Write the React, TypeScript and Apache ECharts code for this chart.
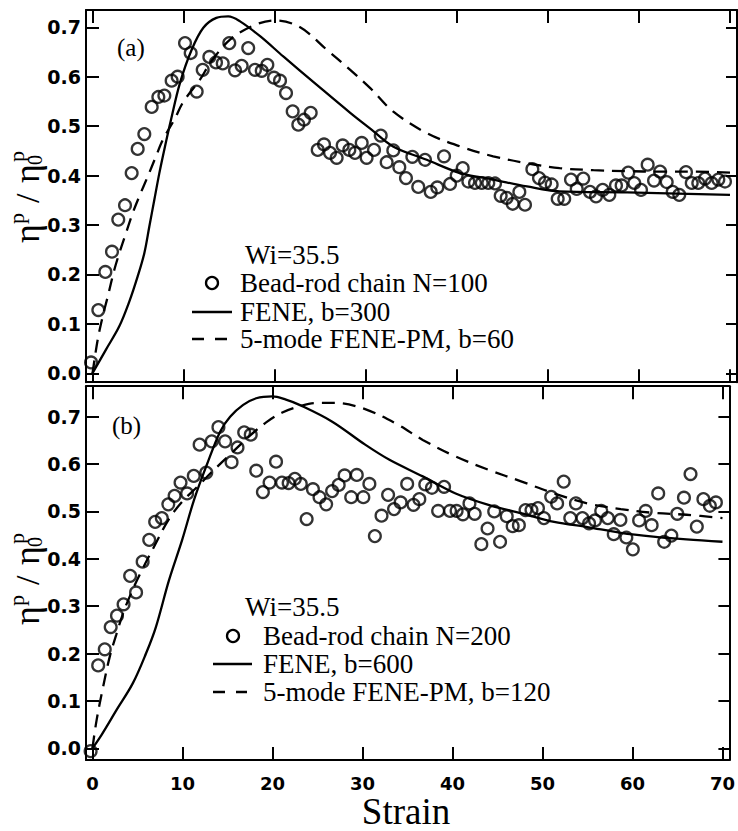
import React, { useEffect, useRef } from 'react';
import * as echarts from 'echarts';

// ---------- tick values ----------
const xTicks = [0, 10, 20, 30, 40, 50, 60, 70];
const yTicks = [0, 0.1, 0.2, 0.3, 0.4, 0.5, 0.6, 0.7];

// ---------- panel (a): bead-rod chain N=100 ----------
const aBeadX = [-0.16, 0.64, 1.41, 2.14, 2.83, 3.57, 4.3, 4.96, 5.69, 6.5, 7.23, 7.89, 8.69, 9.35, 10.16, 10.78, 11.44, 12.1, 12.83, 13.56, 14.3, 15.02, 15.65, 16.38, 17.1, 17.84, 18.58, 19.2, 19.93, 20.59, 21.25, 21.98, 22.6, 23.22, 23.96, 24.73, 25.42, 26.08, 26.81, 27.47, 28.2, 28.82, 29.56, 30.1, 30.91, 31.65, 32.3, 33.03, 33.69, 34.42, 35.12, 35.77, 36.51, 37.14, 37.86, 38.6, 39.26, 39.99, 40.65, 41.27, 42.0, 42.74, 43.46, 44.2, 44.82, 45.48, 46.14, 46.87, 47.49, 48.3, 49.03, 49.69, 50.42, 51.08, 51.8, 52.54, 53.17, 53.89, 54.63, 55.29, 56.02, 56.75, 57.48, 58.1, 58.83, 59.49, 60.23, 60.96, 61.66, 62.32, 63.05, 63.71, 64.43, 65.17, 65.8, 66.52, 67.26, 67.99, 68.72, 69.45];
const aBeadY = [0.022, 0.128, 0.205, 0.246, 0.311, 0.34, 0.405, 0.454, 0.484, 0.539, 0.559, 0.562, 0.592, 0.6, 0.668, 0.648, 0.57, 0.614, 0.64, 0.629, 0.627, 0.668, 0.613, 0.622, 0.658, 0.614, 0.612, 0.624, 0.598, 0.592, 0.567, 0.53, 0.503, 0.513, 0.527, 0.452, 0.463, 0.446, 0.436, 0.461, 0.452, 0.446, 0.466, 0.436, 0.452, 0.481, 0.427, 0.451, 0.417, 0.395, 0.438, 0.377, 0.432, 0.367, 0.376, 0.439, 0.383, 0.4, 0.415, 0.388, 0.385, 0.385, 0.385, 0.384, 0.359, 0.355, 0.343, 0.367, 0.341, 0.413, 0.395, 0.386, 0.382, 0.353, 0.353, 0.392, 0.373, 0.394, 0.367, 0.358, 0.371, 0.361, 0.38, 0.38, 0.406, 0.385, 0.371, 0.422, 0.39, 0.408, 0.387, 0.367, 0.361, 0.407, 0.385, 0.385, 0.394, 0.385, 0.392, 0.388];

// FENE, b=300
const aFeneX = [0, 1.48, 2.94, 4.04, 4.96, 5.69, 6.24, 6.79, 7.34, 7.96, 8.62, 9.6, 10.9, 12.17, 13.6, 14.9, 16.2, 18.4, 20.95, 24.6, 28.3, 30.5, 33.0, 36.7, 40.4, 44.0, 47.7, 51.3, 58.7, 70.0];
const aFeneY = [0, 0.048, 0.095, 0.145, 0.196, 0.243, 0.297, 0.351, 0.405, 0.459, 0.513, 0.587, 0.655, 0.699, 0.719, 0.722, 0.712, 0.682, 0.641, 0.584, 0.527, 0.495, 0.459, 0.432, 0.405, 0.392, 0.378, 0.368, 0.366, 0.361];

// 5-mode FENE-PM, b=60
const aPmX = [0, 0.57, 1.12, 1.67, 2.39, 2.94, 3.68, 4.41, 5.14, 6.06, 6.97, 7.71, 8.98, 10.0, 11.8, 13.0, 15.1, 17.6, 20.0, 22.8, 25.7, 28.3, 30.5, 33.0, 36.7, 40.35, 44.0, 47.7, 51.3, 55.0, 58.7, 62.3, 66.0, 70.0];
const aPmY = [0, 0.068, 0.115, 0.155, 0.209, 0.243, 0.284, 0.324, 0.358, 0.398, 0.439, 0.472, 0.513, 0.55, 0.594, 0.63, 0.675, 0.703, 0.714, 0.7, 0.655, 0.614, 0.577, 0.53, 0.486, 0.459, 0.439, 0.425, 0.415, 0.411, 0.409, 0.408, 0.408, 0.406];

// ---------- panel (b): bead-rod chain N=200 ----------
const bBeadX = [-0.2, 0.64, 1.37, 2.03, 2.73, 3.46, 4.19, 4.85, 5.58, 6.31, 6.97, 7.71, 8.43, 9.13, 9.79, 10.52, 11.26, 11.91, 12.65, 13.26, 14.0, 14.74, 15.46, 16.12, 16.86, 17.59, 18.2, 18.94, 19.68, 20.4, 21.06, 21.8, 22.49, 23.15, 23.8, 24.5, 25.23, 25.97, 26.63, 27.36, 28.02, 28.75, 29.37, 30.1, 30.77, 31.38, 32.12, 32.85, 33.51, 34.24, 34.97, 35.67, 36.32, 36.98, 37.72, 38.41, 39.07, 39.73, 40.46, 41.16, 41.89, 42.47, 43.21, 43.9, 44.64, 45.29, 46.03, 46.69, 47.38, 48.12, 48.78, 49.5, 50.16, 50.97, 51.63, 52.36, 53.09, 53.72, 54.44, 55.18, 55.84, 56.53, 57.26, 57.92, 58.66, 59.32, 60.04, 60.74, 61.47, 62.13, 62.86, 63.52, 64.32, 64.98, 65.72, 66.45, 67.15, 67.88, 68.6, 69.27];
const bBeadY = [-0.006, 0.175, 0.209, 0.256, 0.28, 0.304, 0.364, 0.329, 0.394, 0.44, 0.478, 0.486, 0.515, 0.533, 0.561, 0.538, 0.575, 0.641, 0.582, 0.648, 0.678, 0.648, 0.604, 0.635, 0.667, 0.662, 0.586, 0.541, 0.561, 0.605, 0.561, 0.56, 0.569, 0.558, 0.484, 0.547, 0.53, 0.515, 0.543, 0.556, 0.576, 0.53, 0.577, 0.53, 0.558, 0.448, 0.491, 0.535, 0.505, 0.519, 0.558, 0.514, 0.526, 0.557, 0.55, 0.501, 0.552, 0.501, 0.501, 0.494, 0.517, 0.495, 0.431, 0.464, 0.5, 0.436, 0.49, 0.469, 0.471, 0.503, 0.503, 0.507, 0.486, 0.531, 0.517, 0.563, 0.486, 0.517, 0.486, 0.475, 0.481, 0.501, 0.486, 0.452, 0.482, 0.445, 0.42, 0.481, 0.501, 0.471, 0.538, 0.436, 0.449, 0.495, 0.529, 0.579, 0.468, 0.526, 0.512, 0.519];

// FENE, b=600
const bFeneX = [0, 1.0, 2.65, 4.48, 5.95, 7.05, 8.51, 9.97, 11.3, 12.7, 14.2, 15.3, 16.75, 18.2, 20.0, 21.5, 23.0, 26.6, 30.3, 33.0, 36.7, 40.35, 44.0, 47.7, 51.3, 55.0, 58.7, 62.3, 66.0, 70.0];
const bFeneY = [0, 0.028, 0.08, 0.137, 0.2, 0.256, 0.355, 0.44, 0.525, 0.598, 0.669, 0.7, 0.725, 0.739, 0.743, 0.736, 0.725, 0.69, 0.641, 0.609, 0.574, 0.538, 0.514, 0.496, 0.478, 0.467, 0.455, 0.447, 0.441, 0.436];

// 5-mode FENE-PM, b=120
const bPmX = [0, 0.46, 1.19, 1.92, 2.65, 3.5, 4.48, 5.6, 6.86, 8.5, 10.0, 11.7, 13.3, 15.5, 17.5, 19.3, 21.1, 23.0, 24.8, 27.0, 30.3, 33.95, 36.7, 40.35, 44.0, 47.7, 51.3, 55.0, 58.7, 62.3, 66.0, 70.0];
const bPmY = [0, 0.059, 0.13, 0.193, 0.24, 0.29, 0.335, 0.38, 0.426, 0.484, 0.521, 0.553, 0.584, 0.624, 0.66, 0.688, 0.709, 0.722, 0.729, 0.729, 0.716, 0.683, 0.651, 0.616, 0.588, 0.563, 0.538, 0.517, 0.505, 0.497, 0.493, 0.486];

// ---------- texts ----------
const legendA = ['Wi=35.5', 'Bead-rod chain N=100', 'FENE, b=300', '5-mode FENE-PM, b=60'];
const legendB = ['Wi=35.5', 'Bead-rod chain N=200', 'FENE, b=600', '5-mode FENE-PM, b=120'];

const SERIF = "'Liberation Serif', serif";
const SANS = "'DejaVu Sans', sans-serif";

const zip = (xs: number[], ys: number[]) => xs.map((x, i) => [x, ys[i]]);

const X_MIN = -0.714;
const X_MAX = 70.77;

function xAxis(gridIndex: number, position: 'top' | 'bottom', labels: boolean) {
  return {
    type: 'value',
    gridIndex,
    position,
    min: X_MIN,
    max: X_MAX,
    axisLine: { show: true, onZero: false, lineStyle: { color: '#000', width: 2 } },
    axisTick: { show: true, inside: true, length: 13, customValues: xTicks, lineStyle: { color: '#000', width: 2 } },
    axisLabel: {
      show: labels,
      customValues: xTicks,
      margin: 14,
      fontFamily: SANS,
      fontWeight: 'bold',
      fontSize: 18,
      color: '#000',
    },
    splitLine: { show: false },
  };
}

function yAxis(gridIndex: number, position: 'left' | 'right', labels: boolean, min: number, max: number) {
  return {
    type: 'value',
    gridIndex,
    position,
    min,
    max,
    axisLine: { show: true, onZero: false, lineStyle: { color: '#000', width: 2 } },
    axisTick: { show: true, inside: true, length: position === 'left' ? 13 : 11, customValues: yTicks, lineStyle: { color: '#000', width: 2 } },
    axisLabel: {
      show: labels,
      customValues: yTicks,
      margin: 5,
      fontFamily: SANS,
      fontWeight: 'bold',
      fontSize: 19,
      color: '#000',
      formatter: (v: number) => v.toFixed(1),
    },
    splitLine: { show: false },
  };
}

function scatter(data: number[][], xi: number, yi: number, name: string) {
  return {
    type: 'scatter',
    name,
    xAxisIndex: xi,
    yAxisIndex: yi,
    data,
    symbol: 'circle',
    symbolSize: 11.8,
    itemStyle: { color: 'rgba(0,0,0,0)', borderColor: '#000', borderWidth: 2.3 },
    z: 3,
  };
}

function curve(data: number[][], xi: number, yi: number, name: string, dashed: boolean) {
  return {
    type: 'line',
    name,
    xAxisIndex: xi,
    yAxisIndex: yi,
    data,
    smooth: 0.35,
    showSymbol: false,
    symbol: 'none',
    lineStyle: { color: '#000', width: 2.3, type: dashed ? [13, 8] : 'solid' },
    z: 2,
  };
}

function legendGraphics(
  texts: string[],
  textLeft: number,
  rows: number[],
  circleX: number,
  lineX1: number,
  lineX2: number,
  dashX2: number,
  wiLeft: number,
) {
  const t = (s: string, x: number, y: number) => ({
    type: 'text',
    x,
    y,
    style: { text: s, fontFamily: SERIF, fontSize: 27, fill: '#000', align: 'left', verticalAlign: 'middle' },
  });
  return [
    t(texts[0], wiLeft, rows[0]),
    {
      type: 'circle',
      shape: { cx: circleX, cy: rows[1], r: 6 },
      style: { fill: 'none', stroke: '#000', lineWidth: 2.3 },
    },
    t(texts[1], textLeft, rows[1]),
    {
      type: 'line',
      shape: { x1: lineX1, y1: rows[2], x2: lineX2, y2: rows[2] },
      style: { stroke: '#000', lineWidth: 2.3 },
    },
    t(texts[2], textLeft, rows[2]),
    {
      type: 'line',
      shape: { x1: lineX1, y1: rows[3], x2: dashX2, y2: rows[3] },
      style: { stroke: '#000', lineWidth: 2.3, lineDash: [12, 11] },
    },
    t(texts[3], textLeft, rows[3]),
  ];
}

function yName(cx: number, cy: number) {
  const t = (s: string, x: number, y: number, size: number) => ({
    type: 'text',
    x,
    y,
    style: { text: s, fontFamily: SERIF, fontSize: size, fill: '#000', align: 'left', verticalAlign: 'middle' },
  });
  return {
    type: 'group',
    x: cx,
    y: cy,
    rotation: Math.PI / 2,
    children: [
      t('η', -50, 0, 36),
      t('p', -31, -11, 22),
      t('/', -10, 0, 34),
      t('η', 10, 0, 36),
      t('0', 28, 8, 20),
      t('p', 31, -11, 22),
    ],
  };
}

const option = {
  animation: false,
  backgroundColor: '#fff',
  grid: [
    { left: 86, right: 1, top: 10, height: 372.2 },
    { left: 86, right: 1, top: 386.2, height: 373.8 },
  ],
  xAxis: [
    xAxis(0, 'bottom', false),
    xAxis(0, 'top', false),
    xAxis(1, 'bottom', true),
    xAxis(1, 'top', false),
  ],
  yAxis: [
    yAxis(0, 'left', true, -0.018, 0.735),
    yAxis(0, 'right', false, -0.018, 0.735),
    yAxis(1, 'left', true, -0.0247, 0.7644),
    yAxis(1, 'right', false, -0.0247, 0.7644),
  ],
  series: [
    curve(zip(aFeneX, aFeneY), 0, 0, 'FENE, b=300', false),
    curve(zip(aPmX, aPmY), 0, 0, '5-mode FENE-PM, b=60', true),
    scatter(zip(aBeadX, aBeadY), 0, 0, 'Bead-rod chain N=100'),
    curve(zip(bFeneX, bFeneY), 2, 2, 'FENE, b=600', false),
    curve(zip(bPmX, bPmY), 2, 2, '5-mode FENE-PM, b=120', true),
    scatter(zip(bBeadX, bBeadY), 2, 2, 'Bead-rod chain N=200'),
  ],
  graphic: [
    {
      type: 'text',
      x: 117,
      y: 47,
      style: { text: '(a)', fontFamily: SERIF, fontSize: 25, fill: '#000', align: 'left', verticalAlign: 'middle' },
    },
    {
      type: 'text',
      x: 112,
      y: 425,
      style: { text: '(b)', fontFamily: SERIF, fontSize: 25, fill: '#000', align: 'left', verticalAlign: 'middle' },
    },
    ...legendGraphics(legendA, 240, [255, 283, 312, 339], 212, 192, 232, 227, 245),
    ...legendGraphics(legendB, 263, [607, 636, 664, 692], 233, 213, 252, 247, 245),
    {
      type: 'text',
      x: 406,
      y: 811,
      style: { text: 'Strain', fontFamily: SERIF, fontSize: 37, fill: '#000', align: 'center', verticalAlign: 'middle' },
    },
    yName(27, 193),
    yName(27, 575),
  ],
};

export default function App() {
  const ref = useRef<HTMLDivElement>(null);
  useEffect(() => {
    if (!ref.current) return;
    const chart = echarts.init(ref.current, null, { renderer: 'svg' });
    chart.setOption(option as any);
    return () => chart.dispose();
  }, []);
  return (
    <div
      ref={ref}
      style={{ position: 'absolute', left: 0, top: 0, width: 738, height: 831 }}
    />
  );
}
